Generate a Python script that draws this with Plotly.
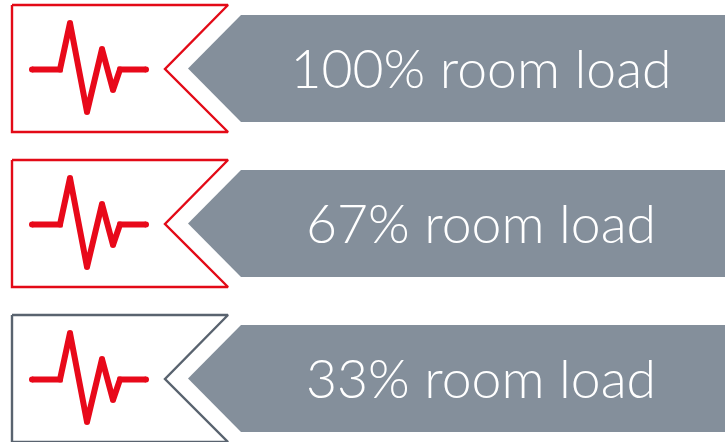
import plotly.graph_objects as go

# Row labels and the outline colour of each flag
load_levels = [100, 67, 33]
labels = [f"{v}% room load" for v in load_levels]
flag_colors = ["#e30a17", "#e30a17", "#59636f"]
row_tops = [0, 155, 310]

# Geometry of one row, in pixels from the top of the row
flag_x = [12, 228, 165, 228, 12, 12]
flag_y = [5, 5, 69, 132, 132, 5]
pulse_x = [32, 60, 70, 87, 102, 113, 120, 146]
pulse_y = [69.5, 69.5, 23, 112, 49, 90, 69.5, 69.5]
banner_x = [725, 241, 188, 241, 725, 725]
banner_y = [15, 15, 68.5, 122, 122, 15]

BANNER_COLOR = "#848f9b"
PULSE_COLOR = "#e8091a"

fig = go.Figure()

for label, color, top in zip(labels, flag_colors, row_tops):
    fig.add_trace(go.Scatter(
        x=banner_x, y=[v + top for v in banner_y],
        mode="lines", fill="toself", fillcolor=BANNER_COLOR,
        line=dict(width=0, color=BANNER_COLOR),
    ))
    fig.add_trace(go.Scatter(
        x=flag_x, y=[v + top for v in flag_y],
        mode="lines", line=dict(width=2.4, color=color),
    ))
    # Markers at the vertices round off the ends of the pulse
    fig.add_trace(go.Scatter(
        x=pulse_x, y=[v + top for v in pulse_y],
        mode="lines+markers",
        line=dict(width=6, color=PULSE_COLOR),
        marker=dict(size=6, color=PULSE_COLOR),
    ))
    fig.add_trace(go.Scatter(
        x=[481], y=[75 + top], mode="text", text=[label],
        textposition="middle center",
        textfont=dict(family="Lato", size=53.5, color="white", weight=300),
    ))

fig.update_layout(
    width=725, height=442,
    margin=dict(l=0, r=0, t=0, b=0),
    paper_bgcolor="white", plot_bgcolor="white",
    showlegend=False,
    xaxis=dict(range=[0, 725], visible=False, fixedrange=True),
    yaxis=dict(range=[442, 0], visible=False, fixedrange=True),
)

fig.write_html("out.html", config=dict(displayModeBar=False))
